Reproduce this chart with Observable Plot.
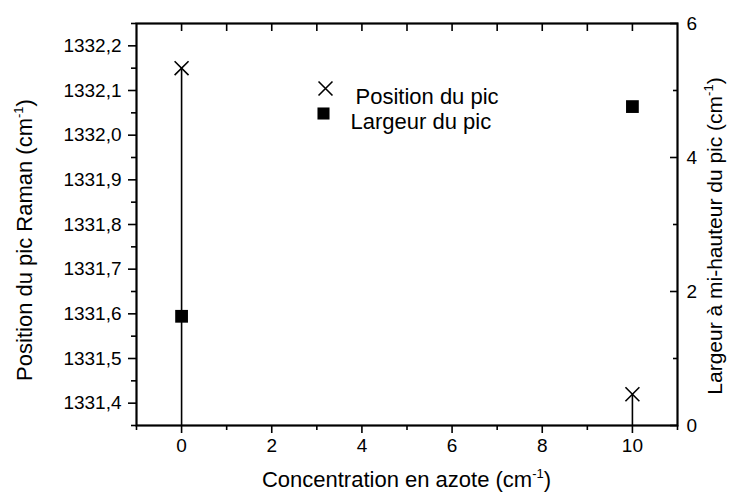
<!DOCTYPE html>
<html><head><meta charset="utf-8">
<script src="https://cdn.jsdelivr.net/npm/d3@7"></script>
<script src="https://cdn.jsdelivr.net/npm/@observablehq/plot@0.6"></script>
<style>
body{margin:0;background:#fff}
svg{font-family:"Liberation Sans",Arial,sans-serif}
</style>
</head><body><div id="chart"></div>
<script>
// ---- data ----
const concentration = [0, 10];
const positionPic = [1332.15, 1331.42];   // left axis, cm-1
const largeurPic = [1.63, 4.76];          // right axis, cm-1
const xTicks = [0, 2, 4, 6, 8, 10];
const xMinorTicks = [-1, 1, 3, 5, 7, 9, 11];
const xTopTicks = [0, 1, 2, 3, 4, 5, 6, 7, 8, 9, 10];
const leftTicks = [1331.4, 1331.5, 1331.6, 1331.7, 1331.8, 1331.9, 1332.0, 1332.1, 1332.2];
const leftMinorTicks = [1331.35, 1331.45, 1331.55, 1331.65, 1331.75, 1331.85, 1331.95, 1332.05, 1332.15, 1332.25];
const rightTicks = [0, 2, 4, 6];
const rightMinorTicks = [1, 3, 5];
const legendLabels = ["Position du pic", "Largeur du pic"];
const xTitle = "Concentration en azote (cm";
const leftTitle = "Position du pic Raman (cm";
const rightTitle = "Largeur à mi-hauteur du pic (cm";

const xDomain = [-1, 11];
const yDomain = [1331.35, 1332.25];
const rDomain = [0, 6];
const toLeft = v => yDomain[0] + (v - rDomain[0]) / (rDomain[1] - rDomain[0]) * (yDomain[1] - yDomain[0]);
const fromLeft = y => Math.round((y - yDomain[0]) / (yDomain[1] - yDomain[0]) * (rDomain[1] - rDomain[0]) + rDomain[0]);
const fmt = d => d.toFixed(1).replace(".", ",");

const data = concentration.map((c, i) => ({c, pos: positionPic[i], w: largeurPic[i]}));

const W = 732, H = 495;
const mL = 136, mR = 55, mT = 23, mB = 70;
const FS = 19;

const plot = Plot.plot({
  width: W, height: H,
  marginLeft: mL, marginRight: mR, marginTop: mT, marginBottom: mB,
  style: {fontFamily: "'Liberation Sans', Arial, sans-serif", fontSize: FS + "px", color: "black", background: "white"},
  x: {domain: xDomain, label: null},
  y: {domain: yDomain, label: null},
  marks: [
    // drop lines
    Plot.ruleX(data, {x: "c", y1: yDomain[0], y2: "pos", stroke: "black", strokeWidth: 1.6}),
    // left axis
    Plot.axisY(leftTicks, {anchor: "left", tickSize: 8, tickPadding: 7, tickFormat: fmt, fontSize: FS, strokeWidth: 1.6, label: null}),
    Plot.axisY(leftMinorTicks, {anchor: "left", tickSize: 5, fill: "none", strokeWidth: 1.6, label: null}),
    // bottom axis
    Plot.axisX(xTicks, {anchor: "bottom", tickSize: 8, tickPadding: 5, fontSize: FS, strokeWidth: 1.6, label: null}),
    Plot.axisX(xMinorTicks, {anchor: "bottom", tickSize: 5, fill: "none", strokeWidth: 1.6, label: null}),
    // top axis (ticks inward)
    Plot.axisX(xTopTicks, {anchor: "top", tickSize: 7, dy: 7, fill: "none", strokeWidth: 1.6, label: null}),
    // right axis (ticks inward)
    Plot.axisY(rightTicks.map(toLeft), {anchor: "right", tickSize: 8, dx: -8, fill: "none", strokeWidth: 1.6, label: null}),
    Plot.axisY(rightMinorTicks.map(toLeft), {anchor: "right", tickSize: 5, dx: -5, fill: "none", strokeWidth: 1.6, label: null}),
    Plot.axisY(rightTicks.map(toLeft), {anchor: "right", tickSize: 0, tickPadding: 9, tickFormat: fromLeft, fontSize: FS, label: null}),
    Plot.frame({stroke: "black", strokeWidth: 2.2}),
    // data points
    Plot.dot(data, {x: "c", y: "pos", symbol: "times", r: 6.4, stroke: "black", strokeWidth: 1.6}),
    Plot.dot(data, {x: "c", y: d => toLeft(d.w), symbol: "square", r: 7.2, fill: "black", stroke: "none"}),
    // legend
    Plot.dot([legendLabels[0]], {frameAnchor: "top-left", dx: 189, dy: 65, symbol: "times", r: 6.4, stroke: "black", strokeWidth: 1.6}),
    Plot.text([legendLabels[0]], {frameAnchor: "top-left", dx: 219, dy: 65, text: d => d, textAnchor: "start", fontSize: 22, fill: "black"}),
    Plot.dot([legendLabels[1]], {frameAnchor: "top-left", dx: 187, dy: 90, symbol: "square", r: 6.8, fill: "black", stroke: "none"}),
    Plot.text([legendLabels[1]], {frameAnchor: "top-left", dx: 214, dy: 90, text: d => d, textAnchor: "start", fontSize: 22, fill: "black"})
  ]
});

document.getElementById("chart").appendChild(plot);

// axis titles with superscripts
const svg = d3.select(plot);
function title(str, x, y, rot, size) {
  const t = svg.append("text")
    .attr("transform", `translate(${x},${y})` + (rot ? ` rotate(${rot})` : ""))
    .attr("text-anchor", "middle")
    .attr("fill", "black")
    .attr("font-size", size)
    .attr("font-family", "'Liberation Sans', Arial, sans-serif");
  t.append("tspan").text(str);
  t.append("tspan").attr("dy", -9).attr("font-size", 13).text("-1");
  t.append("tspan").attr("dy", 9).text(")");
}
title(xTitle, (mL + W - mR) / 2, 487, 0, 22);
title(leftTitle, 32, 240, -90, 22);
title(rightTitle, 722, 236, -90, 21);
</script>
</body></html>
